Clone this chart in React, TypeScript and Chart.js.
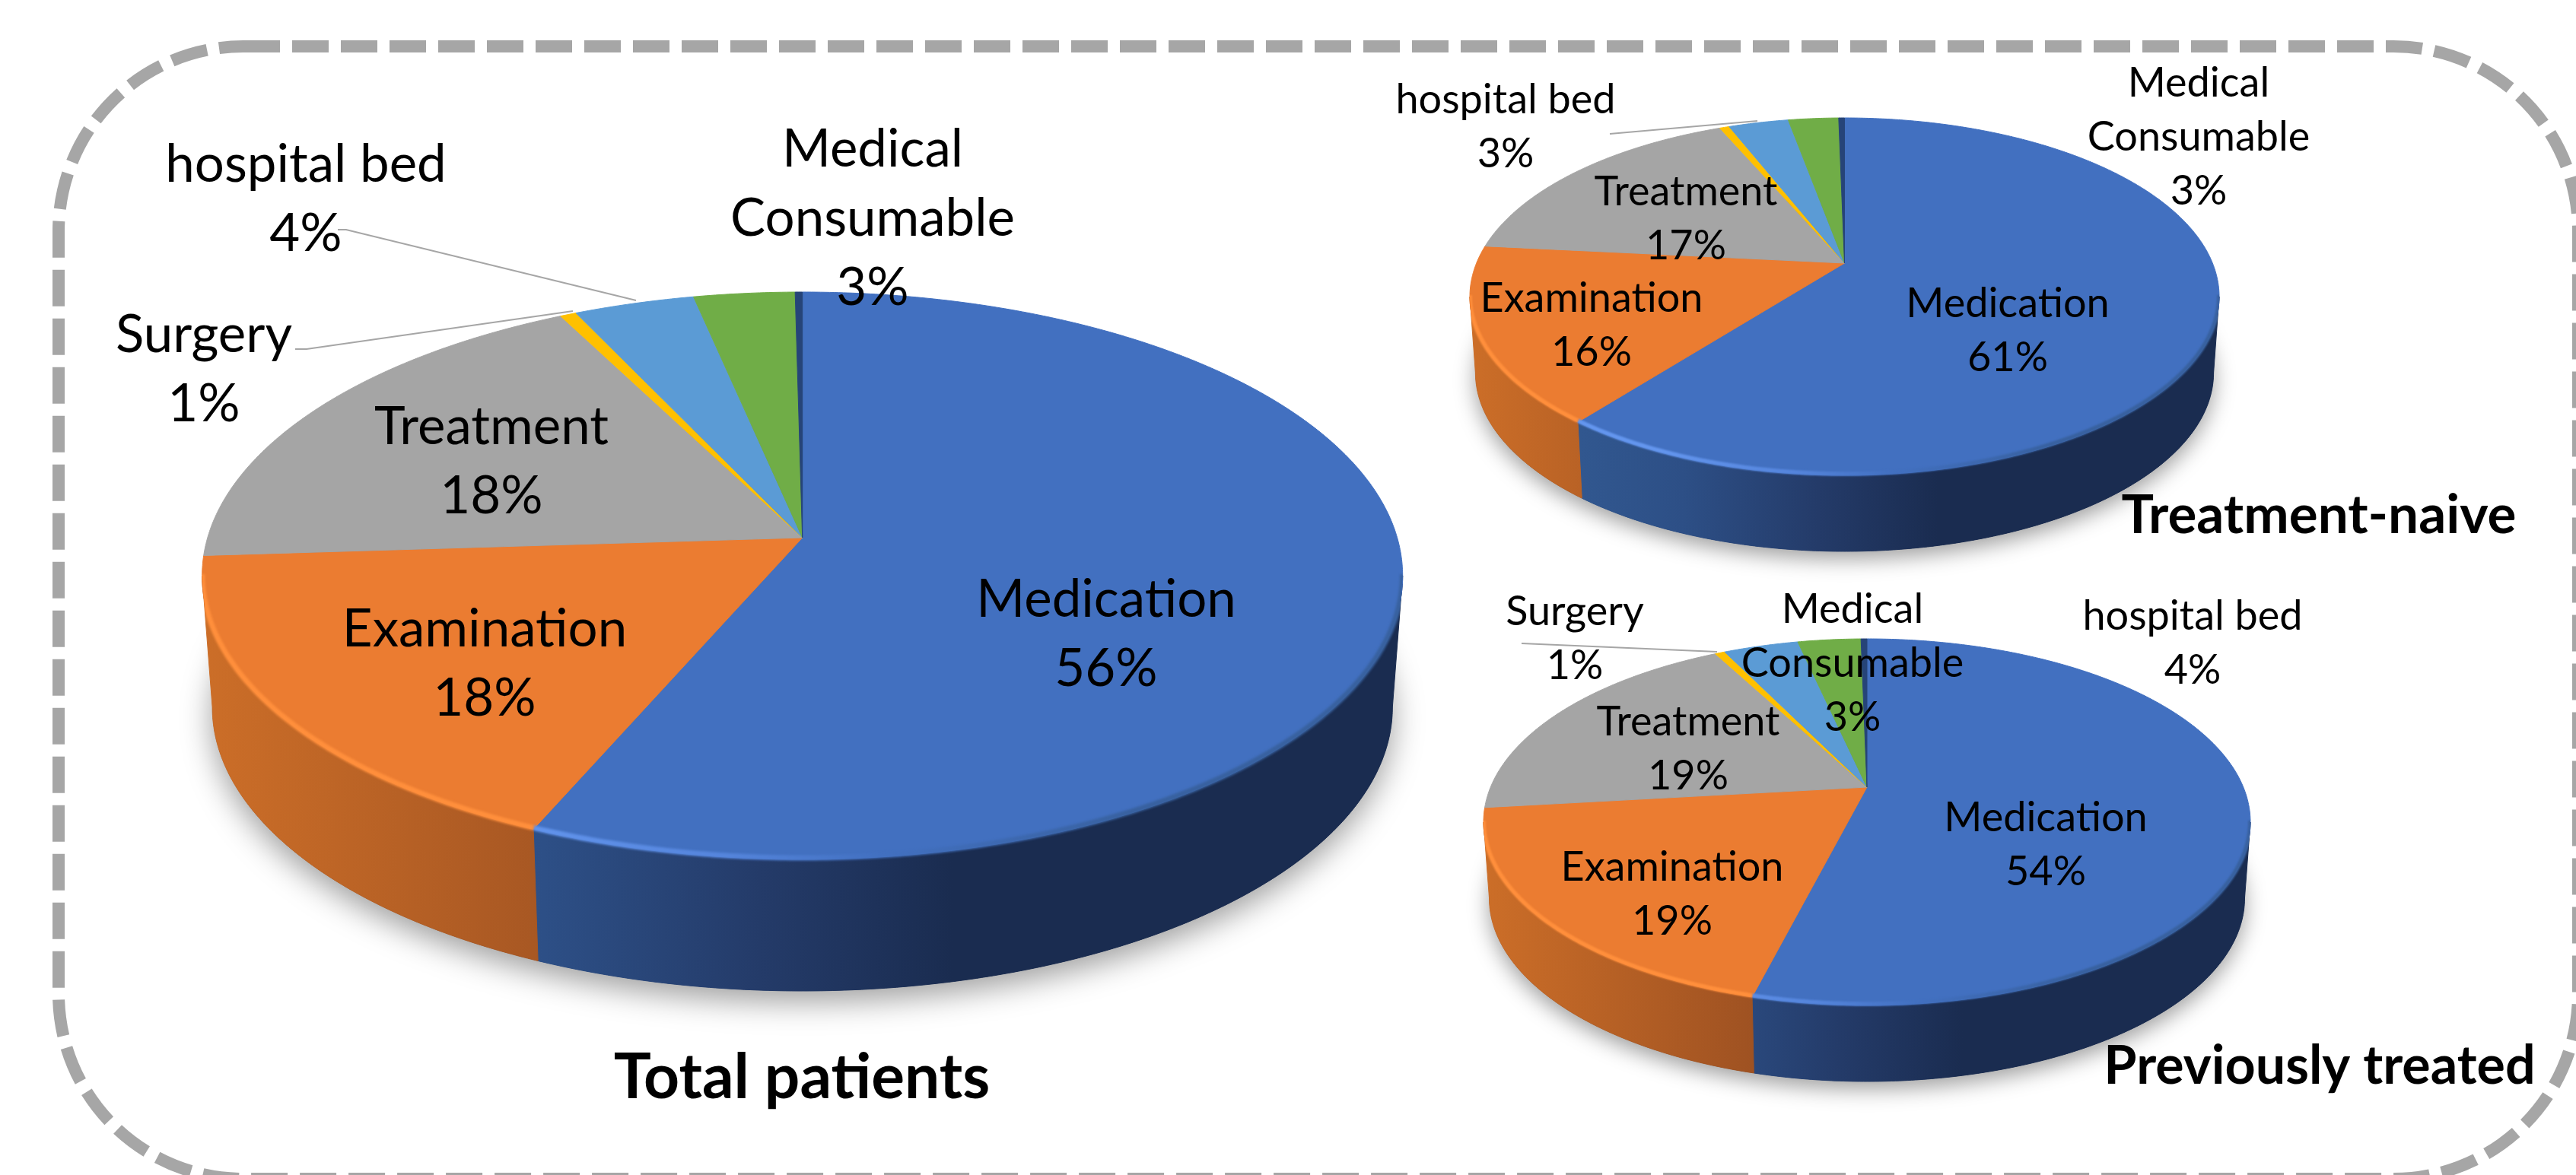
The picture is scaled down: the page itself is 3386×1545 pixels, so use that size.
import React, { useEffect, useRef } from "react";
import { Chart, registerables } from "chart.js";

Chart.register(...registerables);

const W = 3386;
const H = 1545;

const categories = ["Medication", "Examination", "Treatment", "Surgery", "hospital bed", "Medical\nConsumable", "Other"];
const totalValues = [56.49, 17.5, 18.49, 0.5, 3.7, 3.1, 0.22];
const naiveValues = [60.6, 16.0, 16.9, 0.5, 3.1, 2.6, 0.3];
const treatedValues = [54.0, 19.2, 19.0, 0.5, 3.8, 3.2, 0.3];
const sliceColors = ["#4270c0", "#eb7c31", "#a5a5a5", "#ffc000", "#5b9bd5", "#70ad47", "#264478"];
const rimColors = ["#6496ee", "#ff8f3c", "#b5b5b5", "#ffd040", "#70b0e8", "#80bd57", "#264478"];
const sideStops: [number, string][][] = [
  [[-0.7, "#31578f"], [-0.43, "#2d4f86"], [-0.07, "#243b69"], [0.25, "#1a2c50"]],
  [[-1, "#cc6e28"], [-0.3, "#9f5222"]],
];

const FONT = "Lato";
const TEXT_NUDGE = 3;

type Label = { i: number; x: number; y: number };
type Leader = number[];
type Layout = {
  values: number[];
  title: string;
  titleX: number;
  titleY: number;
  titleSize: number;
  cx: number;
  apexY: number;
  topY: number;
  botY: number;
  rx: number;
  depth: number;
  bottomScale: number;
  fontSize: number;
  lineGap: number;
  shadow: number;
  labels: Label[];
  leaders: Leader[];
};

const layouts: Layout[] = [
  {
    values: totalValues,
    title: "Total patients",
    titleX: 1054,
    titleY: 1415,
    titleSize: 82,
    cx: 1054.7,
    apexY: 707,
    topY: 384,
    botY: 1130,
    rx: 789,
    depth: 173,
    bottomScale: 0.983,
    fontSize: 69,
    lineGap: 91,
    shadow: 1,
    labels: [
      { i: 0, x: 1454, y: 786 },
      { i: 1, x: 637, y: 825 },
      { i: 2, x: 646, y: 559 },
      { i: 3, x: 268, y: 438 },
      { i: 4, x: 402, y: 214 },
      { i: 5, x: 1147, y: 194 },
    ],
    leaders: [
      [444, 302, 455, 302, 836, 395],
      [388, 459, 403, 459, 753, 409],
    ],
  },
  {
    values: naiveValues,
    title: "Treatment-naive",
    titleX: 3048,
    titleY: 675,
    titleSize: 71,
    cx: 2424.5,
    apexY: 346,
    topY: 155,
    botY: 625,
    rx: 492.5,
    depth: 100,
    bottomScale: 0.985,
    fontSize: 54,
    lineGap: 71,
    shadow: 0.7,
    labels: [
      { i: 0, x: 2639, y: 397 },
      { i: 1, x: 2092, y: 390 },
      { i: 2, x: 2216, y: 250 },
      { i: 4, x: 1979, y: 129 },
      { i: 5, x: 2890, y: 107 },
    ],
    leaders: [[2116, 176, 2310, 159]],
  },
  {
    values: treatedValues,
    title: "Previously treated",
    titleX: 3049,
    titleY: 1399,
    titleSize: 70,
    cx: 2454,
    apexY: 1035,
    topY: 840,
    botY: 1322,
    rx: 504,
    depth: 100,
    bottomScale: 0.985,
    fontSize: 54,
    lineGap: 71,
    shadow: 0.7,
    labels: [
      { i: 0, x: 2689, y: 1073 },
      { i: 1, x: 2198, y: 1138 },
      { i: 2, x: 2219, y: 947 },
      { i: 3, x: 2070, y: 802 },
      { i: 4, x: 2882, y: 808 },
      { i: 5, x: 2435, y: 799 },
    ],
    leaders: [[2000, 846, 2257, 857]],
  },
];

function makeProjector(l: Layout) {
  const d1 = l.apexY - l.topY;
  const d2 = l.botY - l.apexY;
  const p = (d2 - d1) / (d2 + d1);
  const B = d1 * (1 + p);
  const a = l.rx * Math.sqrt(1 - p * p);
  return {
    p,
    point(theta: number): [number, number] {
      const u = Math.sin(theta);
      const v = -Math.cos(theta);
      const w = 1 - p * v;
      return [l.cx + (a * u) / w, l.apexY + (B * v) / w];
    },
  };
}

function sampleAngles(t0: number, t1: number): number[] {
  const n = Math.max(2, Math.ceil(Math.abs(t1 - t0) / (Math.PI / 360)));
  const out: number[] = [];
  for (let k = 0; k <= n; k++) out.push(t0 + ((t1 - t0) * k) / n);
  return out;
}

function drawFrame(ctx: CanvasRenderingContext2D) {
  const l = 77;
  const t = 61;
  const r = 3389;
  const b = 1550;
  const rad = 243;
  ctx.save();
  ctx.strokeStyle = "#a6a6a6";
  ctx.lineWidth = 16;
  ctx.setLineDash([48, 16]);
  ctx.beginPath();
  ctx.moveTo(l + rad, t);
  ctx.lineTo(r - rad, t);
  ctx.arcTo(r, t, r, t + rad, rad);
  ctx.lineTo(r, b - rad);
  ctx.arcTo(r, b, r - rad, b, rad);
  ctx.lineTo(l + rad, b);
  ctx.arcTo(l, b, l, b - rad, rad);
  ctx.lineTo(l, t + rad);
  ctx.arcTo(l, t, l + rad, t, rad);
  ctx.stroke();
  ctx.restore();
}

function pie3dPlugin(l: Layout, withFrame: boolean) {
  const proj = makeProjector(l);
  const tMin = Math.acos(-proj.p);
  const tMax = 2 * Math.PI - tMin;
  const lower = (pt: [number, number]): [number, number] => [
    l.cx + (pt[0] - l.cx) * l.bottomScale,
    pt[1] + l.depth,
  ];
  const gradX = (ctx: CanvasRenderingContext2D, stops: [number, string][]) => {
    const x0 = l.cx + stops[0][0] * l.rx;
    const x1 = l.cx + stops[stops.length - 1][0] * l.rx;
    const g = ctx.createLinearGradient(x0, 0, x1, 0);
    stops.forEach(([s, c]) => g.addColorStop((s - stops[0][0]) / (stops[stops.length - 1][0] - stops[0][0]), c));
    return g;
  };
  return {
    id: "pie3d",
    beforeDraw(chart: any) {
      if (withFrame) drawFrame(chart.ctx);
    },
    beforeDatasetsDraw(chart: any) {
      const ctx: CanvasRenderingContext2D = chart.ctx;
      const arcs = chart.getDatasetMeta(0).data as any[];
      const range = (a: any): [number, number] => [a.startAngle + Math.PI / 2, a.endAngle + Math.PI / 2];

      // soft ground shadow under the disc
      ctx.save();
      ctx.shadowColor = "rgba(0,0,0,0.38)";
      ctx.shadowBlur = 40 * l.shadow;
      ctx.shadowOffsetY = 14 * l.shadow;
      ctx.fillStyle = "#1a2c50";
      ctx.beginPath();
      sampleAngles(0, Math.PI * 2).forEach((t, k) => {
        const q = lower(proj.point(t));
        if (k === 0) ctx.moveTo(q[0], q[1]);
        else ctx.lineTo(q[0], q[1]);
      });
      ctx.closePath();
      ctx.fill();
      ctx.restore();

      // side wall of every slice that faces the viewer
      arcs.forEach((a, i) => {
        const [s, e] = range(a);
        const t0 = Math.max(s, tMin);
        const t1 = Math.min(e, tMax);
        if (t1 <= t0) return;
        const ts = sampleAngles(t0, t1);
        const fill = sideStops[i] ? gradX(ctx, sideStops[i]) : a.options.backgroundColor;
        ctx.beginPath();
        ts.forEach((t, k) => {
          const q = proj.point(t);
          if (k === 0) ctx.moveTo(q[0], q[1]);
          else ctx.lineTo(q[0], q[1]);
        });
        ts.slice()
          .reverse()
          .forEach((t) => {
            const q = lower(proj.point(t));
            ctx.lineTo(q[0], q[1]);
          });
        ctx.closePath();
        ctx.fillStyle = fill;
        ctx.strokeStyle = fill;
        ctx.lineWidth = 1;
        ctx.fill();
        ctx.stroke();
      });

      // top face
      arcs.forEach((a) => {
        const [s, e] = range(a);
        ctx.beginPath();
        ctx.moveTo(l.cx, l.apexY);
        sampleAngles(s, e).forEach((t) => {
          const q = proj.point(t);
          ctx.lineTo(q[0], q[1]);
        });
        ctx.closePath();
        ctx.fillStyle = a.options.backgroundColor;
        ctx.strokeStyle = a.options.backgroundColor;
        ctx.lineWidth = 1;
        ctx.fill();
        ctx.stroke();
      });

      // bevel highlight along the front rim, kept inside the disc's silhouette
      ctx.save();
      ctx.beginPath();
      sampleAngles(tMax, tMin + 2 * Math.PI).forEach((t, k) => {
        const q = proj.point(t);
        if (k === 0) ctx.moveTo(q[0], q[1]);
        else ctx.lineTo(q[0], q[1]);
      });
      sampleAngles(tMin, tMax)
        .forEach((t) => {
          const q = lower(proj.point(t));
          ctx.lineTo(q[0], q[1]);
        });
      ctx.closePath();
      ctx.clip();
      ctx.filter = `blur(${1.6 * l.shadow}px)`;
      ctx.lineCap = "butt";
      arcs.forEach((a, i) => {
        if (i > 1) return;
        const [s, e] = range(a);
        const t0 = Math.max(s, tMin);
        const t1 = Math.min(e, tMax);
        if (t1 <= t0) return;
        ctx.beginPath();
        sampleAngles(t0, t1).forEach((t, k) => {
          const q = proj.point(t);
          if (k === 0) ctx.moveTo(q[0], q[1] - 2);
          else ctx.lineTo(q[0], q[1] - 2);
        });
        if (i === 0) {
          const g = ctx.createLinearGradient(l.cx - 0.5 * l.rx, 0, l.cx + 0.55 * l.rx, 0);
          g.addColorStop(0, rimColors[0]);
          g.addColorStop(0.35, "#5585dc");
          g.addColorStop(0.6, "#4270c0");
          g.addColorStop(1, "#38619f");
          ctx.strokeStyle = g;
        } else {
          ctx.strokeStyle = rimColors[i];
        }
        ctx.lineWidth = 7 * Math.max(l.shadow, 0.8);
        ctx.stroke();
      });
      ctx.restore();
      return false;
    },
    afterDraw(chart: any) {
      const ctx: CanvasRenderingContext2D = chart.ctx;
      const values: number[] = chart.data.datasets[0].data;
      const names: string[] = chart.data.labels;
      ctx.save();
      // leader lines
      ctx.strokeStyle = "#a6a6a6";
      ctx.lineWidth = 2;
      l.leaders.forEach((pts) => {
        ctx.beginPath();
        for (let k = 0; k < pts.length; k += 2) {
          if (k === 0) ctx.moveTo(pts[k], pts[k + 1]);
          else ctx.lineTo(pts[k], pts[k + 1]);
        }
        ctx.stroke();
      });
      ctx.fillStyle = "#000000";
      ctx.textAlign = "center";
      ctx.textBaseline = "middle";
      ctx.font = `400 ${l.fontSize}px ${FONT}`;
      l.labels.forEach((lab) => {
        const lines = names[lab.i].split("\n").concat(`${Math.round(values[lab.i])}%`);
        lines.forEach((txt, k) => ctx.fillText(txt, lab.x, lab.y + k * l.lineGap + TEXT_NUDGE));
      });
      ctx.font = `700 ${l.titleSize}px ${FONT}`;
      ctx.fillText(l.title, l.titleX, l.titleY + TEXT_NUDGE);
      ctx.restore();
    },
  };
}

function PieCanvas({ layout, withFrame }: { layout: Layout; withFrame: boolean }) {
  const ref = useRef<HTMLCanvasElement | null>(null);
  useEffect(() => {
    if (!ref.current) return;
    const chart = new Chart(ref.current, {
      type: "pie",
      data: {
        labels: categories,
        datasets: [{ data: layout.values, backgroundColor: sliceColors, borderWidth: 0 }],
      },
      options: {
        responsive: false,
        animation: false,
        plugins: { legend: { display: false }, tooltip: { enabled: false }, title: { display: false } },
      },
      plugins: [pie3dPlugin(layout, withFrame)],
    } as any);
    return () => chart.destroy();
  }, [layout, withFrame]);
  return (
    <canvas
      ref={ref}
      width={W}
      height={H}
      style={{ position: "absolute", left: 0, top: 0, width: W, height: H, display: "block" }}
    />
  );
}

export default function App() {
  return (
    <div style={{ position: "fixed", left: 0, top: 0, width: W, height: H, overflow: "hidden", background: "#ffffff" }}>
      {layouts.map((l, i) => (
        <PieCanvas key={l.title} layout={l} withFrame={i === 0} />
      ))}
    </div>
  );
}
